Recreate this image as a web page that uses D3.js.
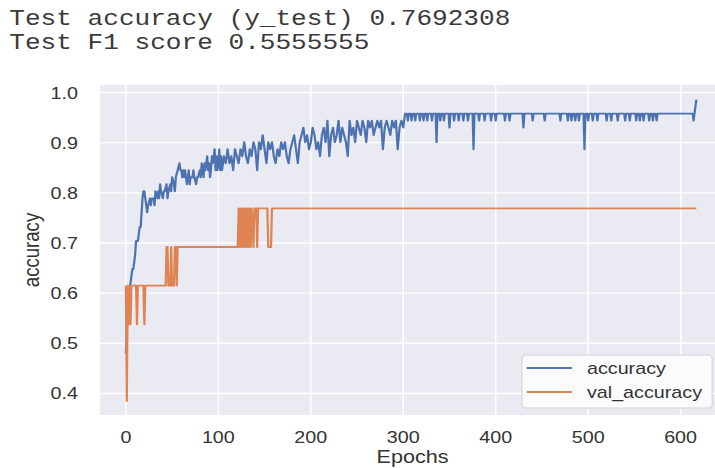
<!DOCTYPE html>
<html>
<head>
<meta charset="utf-8">
<script src="https://cdn.jsdelivr.net/npm/d3@7"></script>
<style>
body { margin: 0; background: #fff; }
</style>
</head>
<body>
<script>
// the screenshot is stretched sideways, so draw in narrower units and let the viewBox widen it
var outW = 715, outH = 468, stretch = 1.16;
var width = outW / stretch, height = outH;

var printedLines = ["Test accuracy (y_test) 0.7692308", "Test F1 score 0.5555555"];
var seriesNames = ["accuracy", "val_accuracy"];
var xTicks = [0, 100, 200, 300, 400, 500, 600];
var yTicks = [0.4, 0.5, 0.6, 0.7, 0.8, 0.9, 1.0];

// [epoch, value]
var accuracy = [
  [0,0.479],[1,0.521],[2,0.563],[3,0.592],[4,0.606],[5,0.620],[6,0.634],[7,0.648],[8,0.648],[9,0.662],
  [10,0.676],[11,0.704],[12,0.704],[13,0.704],[14,0.718],[15,0.732],[16,0.732],[17,0.761],[18,0.789],[19,0.803],
  [20,0.803],[21,0.789],[22,0.775],[23,0.761],[24,0.775],[26,0.789],[27,0.775],[28,0.789],[30,0.789],[31,0.775],
  [32,0.803],[34,0.789],[35,0.803],[36,0.789],[37,0.817],[38,0.803],[40,0.789],[41,0.803],[42,0.803],[44,0.817],
  [45,0.789],[46,0.803],[48,0.817],[49,0.803],[50,0.831],[52,0.817],[53,0.803],[54,0.831],[56,0.845],[58,0.859],
  [59,0.845],[60,0.845],[61,0.831],[62,0.845],[63,0.831],[64,0.845],[65,0.831],[66,0.817],[67,0.831],[68,0.845],
  [69,0.817],[70,0.831],[72,0.831],[73,0.845],[74,0.831],[76,0.817],[77,0.831],[78,0.831],[80,0.845],[81,0.831],
  [82,0.859],[83,0.845],[84,0.831],[85,0.859],[86,0.845],[88,0.873],[89,0.845],[90,0.859],[91,0.831],[92,0.845],
  [93,0.873],[94,0.859],[96,0.887],[97,0.845],[98,0.873],[99,0.845],[100,0.859],[101,0.887],[102,0.845],[103,0.873],
  [104,0.845],[106,0.873],[108,0.859],[110,0.887],[112,0.859],[114,0.873],[116,0.845],[118,0.887],[120,0.873],[122,0.859],
  [124,0.887],[126,0.873],[128,0.901],[130,0.873],[132,0.859],[134,0.887],[136,0.873],[138,0.901],[140,0.887],[142,0.845],
  [144,0.901],[146,0.887],[148,0.915],[150,0.887],[152,0.859],[154,0.901],[156,0.887],[158,0.901],[160,0.873],[162,0.859],
  [164,0.887],[166,0.873],[168,0.901],[170,0.887],[172,0.901],[174,0.873],[176,0.859],[178,0.887],[180,0.901],[182,0.915],
  [184,0.887],[186,0.859],[188,0.901],[190,0.915],[192,0.930],[194,0.901],[196,0.915],[198,0.887],[200,0.901],[202,0.930],
  [204,0.915],[206,0.887],[208,0.901],[210,0.873],[212,0.915],[214,0.930],[216,0.901],[218,0.944],[220,0.873],[222,0.915],
  [224,0.930],[226,0.901],[228,0.915],[230,0.944],[232,0.901],[234,0.930],[236,0.915],[238,0.901],[240,0.873],[242,0.944],
  [244,0.915],[246,0.930],[248,0.901],[250,0.944],[252,0.930],[254,0.915],[256,0.944],[258,0.930],[260,0.901],[262,0.944],
  [264,0.930],[266,0.944],[268,0.915],[270,0.930],[272,0.944],[274,0.930],[276,0.944],[278,0.887],[280,0.930],[282,0.944],
  [284,0.930],[286,0.915],[288,0.944],[290,0.930],[292,0.944],[294,0.887],[296,0.930],[298,0.944],[300,0.930],
  [302,0.958],[304,0.958],[305,0.944],[306,0.958],[308,0.958],[309,0.944],[310,0.958],[312,0.958],[313,0.944],[314,0.958],
  [317,0.958],[318,0.944],[319,0.958],[321,0.958],[322,0.944],[323,0.958],[325,0.958],[326,0.944],[327,0.958],[330,0.958],
  [331,0.944],[332,0.958],[335,0.958],[336,0.901],[337,0.958],[339,0.958],[340,0.944],[341,0.958],[343,0.958],[344,0.944],
  [345,0.958],[349,0.958],[350,0.930],[351,0.958],[354,0.958],[355,0.944],[356,0.958],[359,0.958],[360,0.944],[361,0.958],
  [364,0.958],[365,0.944],[366,0.958],[369,0.958],[370,0.944],[371,0.958],[375,0.958],[376,0.887],[377,0.958],[381,0.958],
  [382,0.944],[383,0.958],[387,0.958],[388,0.944],[389,0.958],[394,0.958],[395,0.944],[396,0.958],[399,0.958],[400,0.944],
  [401,0.958],[409,0.958],[410,0.944],[411,0.958],[414,0.958],[415,0.944],[416,0.958],[429,0.958],[430,0.930],[431,0.958],
  [439,0.958],[440,0.944],[441,0.958],[452,0.958],[453,0.944],[454,0.958],[469,0.958],[470,0.944],[471,0.958],[477,0.958],
  [478,0.944],[479,0.958],[481,0.958],[482,0.944],[483,0.958],[485,0.958],[486,0.944],[487,0.958],[489,0.958],[490,0.944],
  [491,0.958],[495,0.958],[496,0.887],[497,0.958],[499,0.958],[500,0.944],[501,0.958],[504,0.958],[505,0.944],[506,0.958],
  [509,0.958],[510,0.944],[511,0.958],[519,0.958],[520,0.944],[521,0.958],[524,0.958],[525,0.944],[526,0.958],[531,0.958],
  [532,0.944],[533,0.958],[539,0.958],[540,0.944],[541,0.958],[544,0.958],[545,0.944],[546,0.958],[551,0.958],[552,0.944],
  [553,0.958],[555,0.958],[556,0.944],[557,0.958],[559,0.958],[560,0.944],[561,0.958],[565,0.958],[566,0.944],[567,0.958],
  [569,0.958],[570,0.944],[571,0.958],[573,0.958],[574,0.944],[575,0.958],[613,0.958],[614,0.944],[617,0.986]
];

var valAccuracy = [
  [0,0.615],[1,0.385],[2,0.615],[3,0.538],[4,0.615],[5,0.538],[6,0.615],[11,0.615],[12,0.538],[13,0.615],
  [19,0.615],[20,0.538],[21,0.615],[43,0.615],[44,0.692],[45,0.692],[46,0.615],[48,0.615],[49,0.692],[50,0.615],
  [52,0.615],[53,0.692],[54,0.692],[55,0.615],[56,0.692],[121,0.692],[122,0.769],[123,0.692],[124,0.769],[125,0.692],
  [126,0.769],[127,0.692],[128,0.769],[129,0.692],[130,0.769],[131,0.692],[132,0.769],[133,0.692],[134,0.769],[135,0.692],
  [136,0.769],[138,0.692],[139,0.769],[141,0.769],[142,0.692],[143,0.769],[153,0.769],[154,0.692],[157,0.692],[158,0.769],
  [617,0.769]
];

var colors = ["#4c72b0", "#dd8452"];

var plot = {left: 86.2, right: 625, top: 85, bottom: 415};

var x = d3.scaleLinear().domain([-28, 648]).range([plot.left, plot.right]);
var y = d3.scaleLinear().domain([0.357, 1.015]).range([plot.bottom, plot.top]);

var svg = d3.select("body").append("svg")
    .attr("width", outW)
    .attr("height", outH)
    .attr("viewBox", "0 0 " + width + " " + height)
    .attr("preserveAspectRatio", "none");

// printed output above the figure
svg.selectAll("text.out")
    .data(printedLines)
    .enter()
    .append("text")
    .attr("class", "out")
    .attr("x", 8)
    .attr("y", function (d, i) { return 25 + i * 24.5; })
    .attr("font-family", "Liberation Mono, Courier New, monospace")
    .attr("font-size", 22.5)
    .attr("fill", "#3a3a3a")
    .attr("xml:space", "preserve")
    .text(function (d) { return d; });

// axes background
svg.append("rect")
    .attr("x", plot.left)
    .attr("y", plot.top)
    .attr("width", plot.right - plot.left)
    .attr("height", plot.bottom - plot.top)
    .attr("fill", "#eaeaf2");

// grid
svg.append("g")
    .selectAll("line")
    .data(yTicks)
    .enter()
    .append("line")
    .attr("x1", plot.left)
    .attr("x2", plot.right)
    .attr("y1", function (d) { return y(d); })
    .attr("y2", function (d) { return y(d); })
    .attr("stroke", "#fff")
    .attr("stroke-width", 1.4);

svg.append("g")
    .selectAll("line")
    .data(xTicks)
    .enter()
    .append("line")
    .attr("x1", function (d) { return x(d); })
    .attr("x2", function (d) { return x(d); })
    .attr("y1", plot.top)
    .attr("y2", plot.bottom)
    .attr("stroke", "#fff")
    .attr("stroke-width", 1.3);

// tick labels
svg.append("g")
    .selectAll("text")
    .data(yTicks)
    .enter()
    .append("text")
    .attr("x", 67.2)
    .attr("y", function (d) { return y(d) + 6; })
    .attr("text-anchor", "end")
    .attr("font-family", "Liberation Sans, Arial, sans-serif")
    .attr("font-size", 17)
    .attr("fill", "#333")
    .text(function (d) { return d3.format(".1f")(d); });

svg.append("g")
    .selectAll("text")
    .data(xTicks)
    .enter()
    .append("text")
    .attr("x", function (d) { return x(d); })
    .attr("y", 443)
    .attr("text-anchor", "middle")
    .attr("font-family", "Liberation Sans, Arial, sans-serif")
    .attr("font-size", 17)
    .attr("fill", "#333")
    .text(function (d) { return d; });

// axis labels
svg.append("text")
    .attr("x", (plot.left + plot.right) / 2)
    .attr("y", 463)
    .attr("text-anchor", "middle")
    .attr("font-family", "Liberation Sans, Arial, sans-serif")
    .attr("font-size", 18.6)
    .attr("fill", "#333")
    .text("Epochs");

svg.append("text")
    .attr("transform", "translate(33.5," + (plot.top + plot.bottom) / 2 + ") rotate(-90)")
    .attr("text-anchor", "middle")
    .attr("font-family", "Liberation Sans, Arial, sans-serif")
    .attr("font-size", 18.6)
    .attr("fill", "#333")
    .text("accuracy");

// lines
var line = d3.line()
    .x(function (d) { return x(d[0]); })
    .y(function (d) { return y(d[1]); });

svg.append("g")
    .selectAll("path")
    .data([accuracy, valAccuracy])
    .enter()
    .append("path")
    .attr("d", line)
    .attr("fill", "none")
    .attr("stroke", function (d, i) { return colors[i]; })
    .attr("stroke-width", 1.9)
    .attr("stroke-linejoin", "round");

// legend
var legend = svg.append("g").attr("transform", "translate(450,355)");

legend.append("rect")
    .attr("width", 164)
    .attr("height", 53)
    .attr("rx", 4)
    .attr("fill", "#fbfbfd")
    .attr("stroke", "#d4d4d8")
    .attr("stroke-width", 1);

var entry = legend.selectAll("g.entry")
    .data(seriesNames)
    .enter()
    .append("g")
    .attr("class", "entry")
    .attr("transform", function (d, i) { return "translate(0," + (13 + i * 24) + ")"; });

entry.append("line")
    .attr("x1", 4)
    .attr("x2", 43)
    .attr("stroke", function (d, i) { return colors[i]; })
    .attr("stroke-width", 1.9);

entry.append("text")
    .attr("x", 56)
    .attr("y", 6)
    .attr("font-family", "Liberation Sans, Arial, sans-serif")
    .attr("font-size", 17)
    .attr("fill", "#333")
    .text(function (d) { return d; });
</script>
</body>
</html>
